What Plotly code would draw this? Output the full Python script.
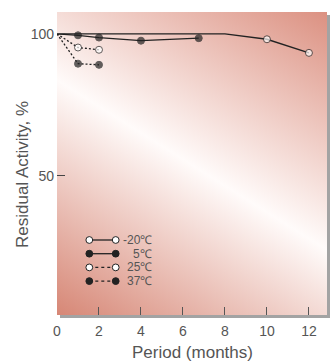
import base64
import plotly.graph_objects as go

# ---- data ----
months_m20 = [0, 8, 10, 12]
act_m20 = [100, 100, 98.1, 93.3]
months_5 = [0, 1, 2, 4, 6.75]
act_5 = [100, 99.5, 98.7, 97.6, 98.5]
months_25 = [0, 1, 2]
act_25 = [100, 95.2, 94.4]
months_37 = [0, 1, 2]
act_37 = [100, 89.5, 89.1]
legend_labels = ["-20℃", "5℃", "25℃", "37℃"]
x_ticks = [0, 2, 4, 6, 8, 10, 12]
y_ticks = [50, 100]

# ---- geometry helpers (pixel -> paper) ----
W, H = 330, 361
L, R, T, B = 57, 327, 12, 315
def pxx(x):
    return (x - L) / (R - L)
def pxy(y):
    return (B - y) / (B - T)

INK = "#222222"
TXT = "#555555"
FONT = "Liberation Sans, Arial, sans-serif"

fig = go.Figure()

series = [
    (months_m20, act_m20, "white", "solid", [0, 0, 7, 7]),
    (months_5, act_5, INK, "solid", [0, 7, 7, 7, 7]),
    (months_25, act_25, "white", "2px,2px", [0, 7, 7]),
    (months_37, act_37, INK, "2px,2px", [0, 7, 7]),
]
for (xs, ys, fill, dash, sizes), name in zip(series, legend_labels):
    fig.add_trace(go.Scatter(
        x=xs, y=ys, mode="lines+markers", name=name, showlegend=False,
        line=dict(color=INK, width=1.3, dash=dash),
        marker=dict(size=sizes, color=fill, line=dict(color=INK, width=1)),
        hoverinfo="skip",
    ))

# gradient background as svg image
pw, ph = R - L, B - T
svg = (
    f"<svg xmlns='http://www.w3.org/2000/svg' width='{pw}' height='{ph}' "
    f"viewBox='0 0 {pw} {ph}' preserveAspectRatio='none'>"
    "<defs><linearGradient id='g' gradientUnits='userSpaceOnUse' "
    "x1='23' y1='331' x2='247' y2='-25'>"
    "<stop offset='0' stop-color='#d4806e'/>"
    "<stop offset='0.5' stop-color='#fffbfa'/>"
    "<stop offset='1' stop-color='#da8c7c'/>"
    "</linearGradient></defs>"
    f"<rect width='{pw}' height='{ph}' fill='url(#g)'/></svg>"
)
src = "data:image/svg+xml;base64," + base64.b64encode(svg.encode()).decode()

shapes = [
    # drop shadow strips
    dict(type="rect", xref="paper", yref="paper", x0=pxx(327), x1=pxx(330),
         y0=pxy(318), y1=pxy(15), fillcolor="#a3a3a3", line_width=0, layer="below"),
    dict(type="rect", xref="paper", yref="paper", x0=pxx(60), x1=pxx(330),
         y0=pxy(318), y1=pxy(315), fillcolor="#a3a3a3", line_width=0, layer="below"),
]
annotations = []

# custom legend
leg_y = [240, 253.7, 267.4, 281.1]
lx0, lx1, r = 89.3, 115.7, 3.4
fills = ["white", INK, "white", INK]
dashes = ["solid", "solid", "dot", "dot"]
for yy, f, d, lab in zip(leg_y, fills, dashes, legend_labels):
    shapes.append(dict(type="line", xref="paper", yref="paper",
                       x0=pxx(lx0), x1=pxx(lx1), y0=pxy(yy), y1=pxy(yy),
                       line=dict(color=INK, width=1.3, dash=d)))
    for cx in (lx0, lx1):
        shapes.append(dict(type="circle", xref="paper", yref="paper",
                           x0=pxx(cx - r), x1=pxx(cx + r),
                           y0=pxy(yy + r), y1=pxy(yy - r),
                           fillcolor=f, line=dict(color=INK, width=1)))
    annotations.append(dict(xref="paper", yref="paper", x=pxx(154), y=pxy(yy),
                            xanchor="right", yanchor="middle", showarrow=False,
                            text=lab, font=dict(family=FONT, size=12, color=TXT)))

# axis titles
annotations.append(dict(xref="paper", yref="paper", x=0.5, y=pxy(352),
                        xanchor="center", yanchor="middle", showarrow=False,
                        text="Period (months)", font=dict(family=FONT, size=17, color=TXT)))
annotations.append(dict(xref="paper", yref="paper", x=pxx(22), y=pxy(175),
                        xanchor="center", yanchor="middle", showarrow=False, textangle=-90,
                        text="Residual Activity, %", font=dict(family=FONT, size=17, color=TXT)))

fig.update_layout(
    width=W, height=H,
    margin=dict(l=L, r=W - R, t=T, b=H - B, pad=0),
    paper_bgcolor="white", plot_bgcolor="rgba(0,0,0,0)",
    images=[dict(source=src, xref="paper", yref="paper", x=0, y=1, sizex=1, sizey=1,
                 sizing="stretch", xanchor="left", yanchor="top", layer="below")],
    shapes=shapes, annotations=annotations,
    xaxis=dict(range=[0, 12.86], tickvals=x_ticks, ticks="inside", ticklen=8,
               tickcolor="#555", tickwidth=1, showgrid=False, zeroline=False,
               showline=False, ticklabelstandoff=6,
               tickfont=dict(family=FONT, size=14, color=TXT)),
    yaxis=dict(range=[1, 107.7], tickvals=y_ticks, ticks="inside", ticklen=8,
               tickcolor="#444", tickwidth=1, showgrid=False, zeroline=False,
               showline=False, ticklabelstandoff=2,
               tickfont=dict(family=FONT, size=14, color=TXT)),
)

fig.write_html("out.html")
